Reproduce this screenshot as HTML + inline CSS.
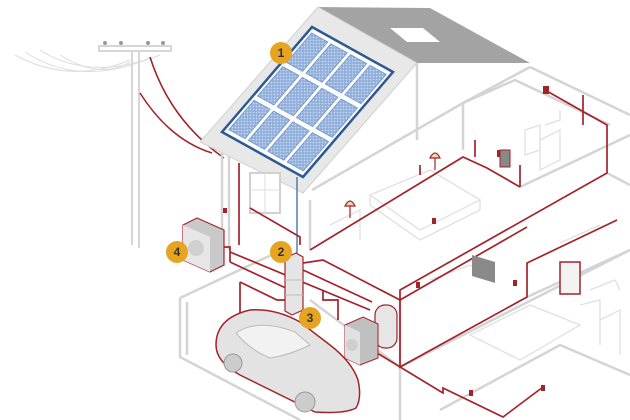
<!DOCTYPE html>
<html><head><style>html,body{margin:0;padding:0;background:#fff}svg{display:block}</style></head>
<body>
<svg width="630" height="420" viewBox="0 0 630 420" xmlns="http://www.w3.org/2000/svg" font-family="Liberation Sans, sans-serif">
<defs>
<pattern id="cell" width="3" height="3" patternUnits="userSpaceOnUse">
<rect width="3" height="3" fill="#86a8d8"/><rect x="0.6" y="0.6" width="1.8" height="1.8" fill="#c6d6ee"/>
</pattern>
</defs>
<g fill="none" stroke="#ddd" stroke-width="1">
<path d="M15,55 Q70,85 130,60"/><path d="M25,52 Q80,88 150,58"/><path d="M40,50 Q90,82 160,55"/><path d="M60,55 Q100,80 130,62"/>
</g>
<g stroke="#d6d6d6" fill="none" stroke-width="2">
<line x1="132" y1="48" x2="132" y2="245"/><line x1="139" y1="48" x2="139" y2="248"/>
<rect x="99" y="46" width="72" height="5" fill="#fff"/>
</g>
<g fill="#999"><circle cx="105" cy="43" r="2"/><circle cx="121" cy="43" r="2"/><circle cx="148" cy="43" r="2"/><circle cx="163" cy="43" r="2"/></g>
<g fill="none" stroke="#a3232a" stroke-width="1.6">
<path d="M150,57 Q170,120 224,158"/><path d="M140,93 Q170,140 212,153"/>
</g>
<g fill="none" stroke="#d4d4d4" stroke-width="2.5">
<path d="M417,63 L417,140"/><path d="M312,190 L463,103 L530,67"/>
<path d="M463,103 L463,150"/><path d="M530,67 L630,115"/>
<path d="M463,103 L515,80 L610,125"/>
<path d="M222,150 L222,250"/><path d="M229,150 L229,250"/>
<path d="M310,200 L310,250"/>
<path d="M180,298 L180,357 L300,420"/><path d="M180,298 L282,250"/>
<path d="M187,302 L187,355"/>
<path d="M400,367 L630,250"/><path d="M400,300 L400,420"/>
<path d="M310,300 L400,367"/>
<path d="M440,410 L560,345 L630,375"/>
<path d="M527,297 L630,250"/>
<path d="M520,187 L630,135"/><path d="M607,173 L630,185"/>
</g>
<g fill="none" stroke="#e0e0e0" stroke-width="1.3">
<path d="M370,195 L430,170 L480,200 L420,230 Z"/><path d="M370,195 L370,205 L420,240 L480,210 L480,200"/>
<path d="M540,140 L560,130 L560,160 L540,170Z"/><path d="M545,125 L560,120 L560,110"/>
<path d="M470,335 L530,305 L580,325 L520,360Z"/><path d="M580,305 L600,300 L600,345"/><path d="M600,320 L620,310 L620,355"/>
<path d="M430,280 L470,265 L490,280"/><path d="M560,243 L600,225"/>
<path d="M330,225 L360,210 L360,240"/><path d="M525,130 L540,125 L540,150 L525,155Z"/>
<path d="M590,290 L615,280 L620,290"/>
</g>
<!-- roof -->
<polygon points="318,7 430,8 530,63 417,63" fill="#a3a3a3"/>
<polygon points="390,28 423,28 440,42 407,42" fill="#fff"/>
<polygon points="318,7 417,63 303,193 200,142" fill="#e8e8e8" stroke="#d0d0d0"/>
<!-- solar -->
<polygon points="312,27 393,72 303,177 222,132" fill="#fff" stroke="#2d5a93" stroke-width="2.5"/>
<g fill="url(#cell)" stroke="#6f93c7" stroke-width="0.8">
<polygon points="311.6,33 327.8,42 302.6,71.4 286.4,62.4"/>
<polygon points="330.9,43.8 347.3,52.8 322.1,82.2 305.9,73.2"/>
<polygon points="350.5,54.6 366.7,63.6 341.5,93 325.3,84"/>
<polygon points="370,65.4 386.2,74.4 361,103.8 344.8,94.8"/>
<polygon points="282.8,66.6 299,75.6 273.8,105 257.6,96"/>
<polygon points="302.3,77.4 318.5,86.4 293.3,115.8 277.1,106.8"/>
<polygon points="321.7,88.2 337.9,97.2 312.7,126.6 296.5,117.6"/>
<polygon points="341.2,99 357.4,108 332.2,137.4 316,128.4"/>
<polygon points="254,100.2 270.2,109.2 245,138.6 228.8,129.6"/>
<polygon points="273.5,111 289.7,120 264.5,149.4 248.3,140.4"/>
<polygon points="292.9,121.8 309.1,130.8 283.9,160.2 267.7,151.2"/>
<polygon points="312.4,132.6 328.6,141.6 303.4,171 287.2,162"/>
</g>
<rect x="250" y="173" width="30" height="40" fill="#fff" stroke="#d0d0d0" stroke-width="2"/>
<line x1="265" y1="173" x2="265" y2="213" stroke="#ddd"/><line x1="250" y1="190" x2="280" y2="190" stroke="#ddd"/>
<line x1="297" y1="177" x2="297" y2="253" stroke="#3a6aa8" stroke-width="1.3"/>
<g fill="none" stroke="#a3232a" stroke-width="1.7">
<path d="M239,163 L239,245"/>
<path d="M250,208 L300,237 L300,245"/>
<path d="M310,250 L463,157 L487,168 L520,187"/>
<path d="M545,90 L607,125 L607,173 L400,290 L400,300"/>
<path d="M400,300 L527,227"/>
<path d="M400,300 L400,367 L527,297 L527,263 L617,220"/>
<path d="M223,247 L230,247 L230,262"/>
<path d="M230,252 L370,310"/><path d="M230,262 L290,290"/>
<path d="M303,263 L323,260 L400,300"/>
<path d="M303,270 L372,302"/>
<path d="M240,282 L240,313"/><path d="M240,282 L277,300 L285,300"/>
<path d="M323,290 L323,300 L338,300 L338,320"/>
<path d="M377,353 L443,393 L443,388 L503,417 L543,387"/>
<path d="M520,187 L520,165"/><path d="M583,95 L583,125"/>
<path d="M475,157 L475,140"/><path d="M420,165 L420,175"/>
</g>
<g fill="#a3232a">
<rect x="543" y="86" width="6" height="8"/><rect x="497" y="150" width="5" height="7"/><rect x="432" y="218" width="4" height="6"/>
<rect x="416" y="282" width="4" height="6"/><rect x="513" y="280" width="4" height="6"/><rect x="469" y="390" width="4" height="6"/><rect x="541" y="385" width="4" height="6"/>
<rect x="223" y="208" width="4" height="5"/>
</g>
<g fill="#f1d7b8" stroke="#a3232a" stroke-width="1.2">
<path d="M430,158 Q435,148 440,158 Z"/><line x1="435" y1="158" x2="435" y2="170"/>
<path d="M345,206 Q350,196 355,206 Z"/><line x1="350" y1="206" x2="350" y2="218"/>
</g>
<rect x="500" y="150" width="10" height="17" fill="#888" stroke="#a3232a"/>
<polygon points="472,255 495,262 495,283 472,276" fill="#8a8a8a"/>
<rect x="560" y="262" width="20" height="32" fill="#f3f3f3" stroke="#a3232a" stroke-width="1.5"/>
<polygon points="183,225 197,218 224,230 224,265 210,272 183,260" fill="#c9c9c9" stroke="#a3232a" stroke-width="1.2"/>
<polygon points="183,225 210,237 210,272 183,260" fill="#e6e6e6"/>
<circle cx="196" cy="248" r="8" fill="#d0d0d0"/>
<polygon points="285,258 296,253 303,257 303,310 292,315 285,311" fill="#e5e5e5" stroke="#a3232a" stroke-width="1.2"/>
<line x1="285" y1="280" x2="303" y2="280" stroke="#bbb"/><line x1="285" y1="295" x2="303" y2="295" stroke="#bbb"/>
<rect x="375" y="305" width="22" height="43" rx="10" fill="#e6e6e6" stroke="#a3232a" stroke-width="1.2"/>
<polygon points="345,325 363,317 378,324 378,358 360,365 345,358" fill="#c0c0c0" stroke="#a3232a" stroke-width="1"/>
<polygon points="345,325 360,332 360,365 345,358" fill="#e1e1e1"/>
<circle cx="352" cy="345" r="6" fill="#cfcfcf"/>
<path d="M216,345 Q216,318 250,310 Q275,308 300,322 L330,345 Q352,362 358,380 Q362,398 356,408 Q345,414 315,412 L240,375 Q216,362 216,345Z" fill="#e3e3e3" stroke="#a3232a" stroke-width="1.5"/>
<path d="M236,333 Q258,318 295,332 L310,345 Q290,355 270,358 Q250,350 236,333Z" fill="#f2f2f2" stroke="#bbb"/>
<circle cx="233" cy="363" r="9" fill="#ccc" stroke="#999"/><circle cx="305" cy="402" r="10" fill="#ccc" stroke="#999"/>
<g font-size="12" font-weight="bold" fill="#333" text-anchor="middle">
<circle cx="281" cy="53" r="11" fill="#e6a421"/><text x="281" y="57">1</text>
<circle cx="281" cy="252" r="11" fill="#e6a421"/><text x="281" y="256">2</text>
<circle cx="310" cy="318" r="11" fill="#e6a421"/><text x="310" y="322">3</text>
<circle cx="177" cy="252" r="11" fill="#e6a421"/><text x="177" y="256">4</text>
</g>
</svg>
</body></html>
